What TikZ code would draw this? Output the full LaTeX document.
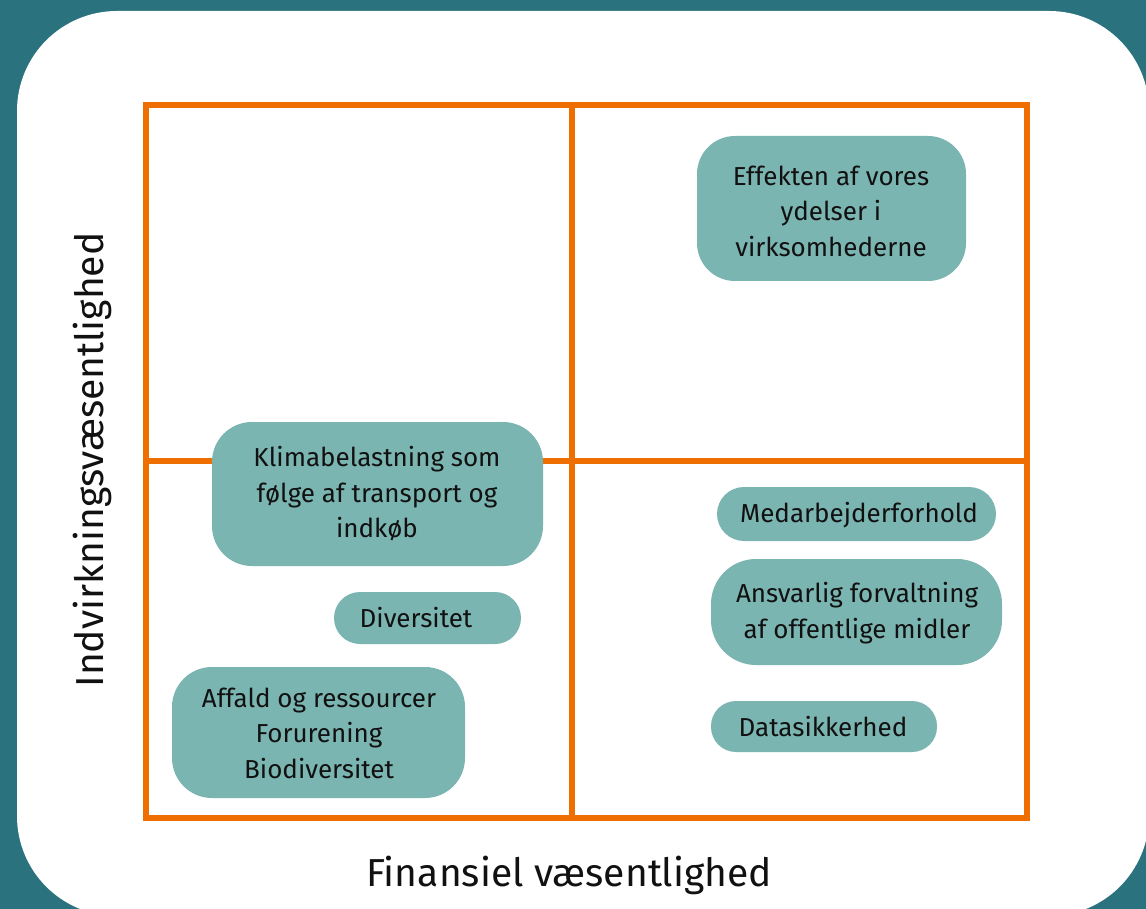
\documentclass[tikz,border=0pt]{standalone}
\usepackage{fontspec}
\setmainfont{Fira Sans}
\definecolor{bgteal}{HTML}{2A727E}
\definecolor{bubteal}{HTML}{7BB5B1}
\definecolor{frameorange}{HTML}{EE6F00}
\definecolor{txtblack}{HTML}{111111}
\begin{document}
\begin{tikzpicture}[x=1pt,y=-1pt,
  bubble/.style={fill=bubteal, draw=none, rectangle, inner sep=0pt},
  btxt/.style={text=txtblack, align=center, inner sep=0pt, font=\fontsize{26}{35.5}\selectfont},
  axtxt/.style={text=txtblack, inner sep=0pt, anchor=base, font=\fontsize{39}{44}\selectfont},
  frameline/.style={draw=frameorange, line width=6pt}]
\useasboundingbox (0,0) rectangle (1146,909);
\fill[bgteal] (0,0) rectangle (1146,909);
\fill[white, rounded corners=100pt] (17,11) rectangle (1149,916);

% frame
\draw[frameline] (146,105) rectangle (1027,818);
\draw[frameline] (572,105) -- (572,818);
\draw[frameline] (146,461) -- (1027,461);

% bubbles
\node[bubble, minimum width=269pt, minimum height=145pt, rounded corners=38pt] (b1) at (831.5,208.5) {};
\node[btxt] (t1) at (831,211) {Effekten af vores\\ydelser i\\virksomhederne};

\node[bubble, minimum width=331pt, minimum height=144pt, rounded corners=40pt] (b2) at (377.5,494) {};
\node[btxt] (t2) at (377,494) {Klimabelastning som\\følge af transport og\\indkøb};

\node[bubble, minimum width=187pt, minimum height=52pt, rounded corners=26pt] (b3) at (427.5,618) {};
\node[btxt] (t3) at (416,618) {Diversitet};

\node[bubble, minimum width=293pt, minimum height=131pt, rounded corners=40pt] (b4) at (318.5,732.5) {};
\node[btxt] (t4) at (319,733) {Affald og ressourcer\\Forurening\\Biodiversitet};

\node[bubble, minimum width=279pt, minimum height=54pt, rounded corners=27pt] (b5) at (856.5,514) {};
\node[btxt] (t5) at (859,515) {Medarbejderforhold};

\node[bubble, minimum width=291pt, minimum height=106pt, rounded corners=45pt] (b6) at (856.5,612) {};
\node[btxt] (t6) at (857,613) {Ansvarlig forvaltning\\af offentlige midler};

\node[bubble, minimum width=226pt, minimum height=51pt, rounded corners=25pt] (b7) at (824,726.5) {};
\node[btxt] (t7) at (823,727) {Datasikkerhed};

% axis labels
\node[axtxt] (xl) at (569,886) {Finansiel væsentlighed};
\node[axtxt, rotate=90] (yl) at (103,460) {Indvirkningsvæsentlighed};
\end{tikzpicture}
\end{document}
